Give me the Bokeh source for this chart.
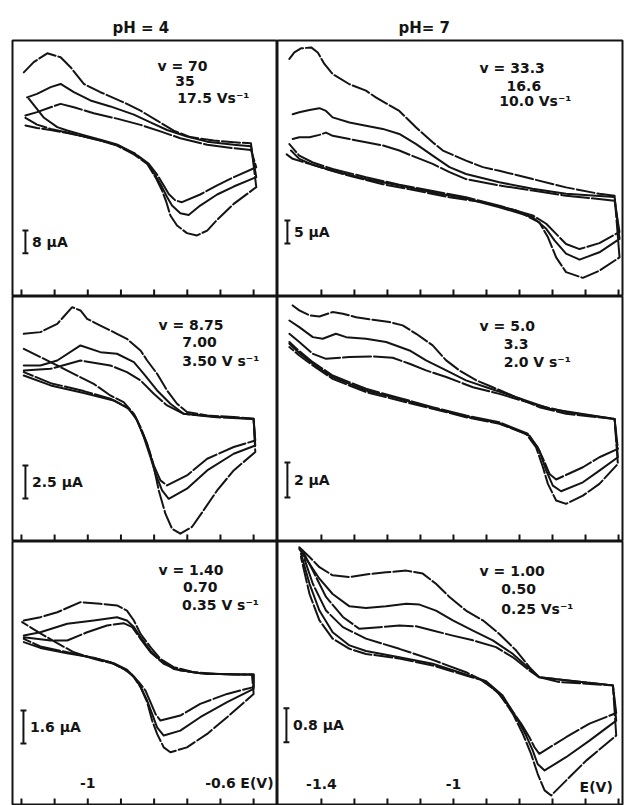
from bokeh.plotting import figure
from bokeh.layouts import gridplot
from bokeh.models import Range1d
from bokeh.core.properties import value
from bokeh.embed import file_html
from bokeh.resources import INLINE

# ---------------- data (E in V, I in microampere) ----------------
PH_LABELS = ["pH = 4", "pH= 7"]

LEFT_TICKS = [-1.2, -1.1, -1.0, -0.9, -0.8, -0.7, -0.6, -0.5]
RIGHT_TICKS = [-1.4, -1.3, -1.2, -1.1, -1.0, -0.9, -0.8, -0.7, -0.6, -0.5]
LEFT_TICK_LABELS = ["-1", "-0.6"]
LEFT_TICK_VALUES = [-1.0, -0.6]
RIGHT_TICK_LABELS = ["-1.4", "-1"]
RIGHT_TICK_VALUES = [-1.4, -1.0]
AXIS_LABEL = "E(V)"

# panel 1 : pH 4, v = 70, 35, 17.5 V/s
P1_RATES = ["v = 70", "35", "17.5 Vs\u207b\u00b9"]
P1_BAR = 8.0
P1_A_E = [-1.193, -1.163, -1.122, -1.082, -1.052, -1.012, -0.962, -0.882, -0.841, -0.791, -0.741, -0.691, -0.620, -0.560, -0.508,
          -0.492, -0.560, -0.610, -0.640, -0.671, -0.701, -0.731, -0.751, -0.763, -0.776, -0.796, -0.821, -0.861, -0.912, -0.962, -1.012, -1.062, -1.112, -1.153, -1.188]
P1_A_I = [78.9, 82.5, 85.6, 84.2, 80.7, 74.8, 71.9, 67.8, 65.4, 61.9, 58.4, 56.1, 54.9, 54.3, 53.9,
          38.5, 32.6, 27.0, 23.2, 21.5, 22.3, 25.0, 28.5, 33.2, 37.3, 42.0, 46.7, 50.0, 53.1, 54.9, 56.3, 57.5, 58.6, 59.3, 60.2]
P1_B_E = [-1.183, -1.153, -1.112, -1.082, -1.042, -0.992, -0.932, -0.861, -0.811, -0.761, -0.701, -0.640, -0.560, -0.508,
          -0.492, -0.560, -0.610, -0.661, -0.696, -0.721, -0.746, -0.761, -0.776, -0.796, -0.821, -0.861, -0.912, -0.962, -1.012, -1.062, -1.092, -1.132, -1.178]
P1_B_I = [70.1, 71.3, 73.7, 74.8, 71.9, 69.0, 66.9, 64.0, 61.3, 58.6, 56.3, 54.5, 53.4, 52.9,
          42.0, 38.7, 35.9, 32.0, 28.7, 29.3, 32.0, 35.0, 38.5, 42.6, 47.0, 50.4, 53.5, 55.2, 56.8, 58.4, 59.6, 62.9, 69.6]
P1_C_E = [-1.188, -1.153, -1.112, -1.082, -1.042, -0.982, -0.912, -0.841, -0.781, -0.721, -0.640, -0.560, -0.508,
          -0.492, -0.560, -0.610, -0.661, -0.716, -0.736, -0.756, -0.771, -0.791, -0.816, -0.856, -0.907, -0.962, -1.012, -1.062, -1.112, -1.153, -1.188]
P1_C_I = [63.7, 64.9, 66.6, 67.8, 66.6, 64.5, 62.6, 60.4, 58.1, 55.7, 53.4, 52.2, 51.6,
          45.5, 42.0, 39.1, 35.9, 33.2, 33.8, 36.1, 39.1, 42.9, 46.7, 50.2, 53.1, 54.9, 56.3, 57.7, 59.0, 60.5, 62.9]

# panel 2 : pH 7, v = 33.3, 16.6, 10.0 V/s
P2_RATES = ["v = 33.3", "16.6", "10.0 Vs\u207b\u00b9"]
P2_BAR = 5.0
P2_A_E = [-1.497, -1.482, -1.462, -1.431, -1.411, -1.391, -1.366, -1.315, -1.265, -1.234, -1.164, -1.113, -1.063, -1.032, -0.962, -0.911, -0.861, -0.760, -0.659, -0.558, -0.512,
          -0.497, -0.558, -0.608, -0.659, -0.689, -0.714, -0.740, -0.810, -0.911, -1.012, -1.113, -1.214, -1.315, -1.386, -1.436, -1.487, -1.507]
P2_A_I = [51.6, 53.0, 53.9, 54.1, 53.0, 50.5, 48.3, 46.1, 44.7, 43.2, 40.3, 36.7, 33.5, 31.7, 29.5, 28.1, 27.3, 25.5, 23.7, 22.3, 21.9,
          8.5, 5.6, 4.05, 5.3, 8.5, 12.9, 16.1, 18.7, 20.5, 21.55, 23.0, 24.4, 26.2, 27.7, 28.8, 29.9, 30.95]
P2_B_E = [-1.487, -1.467, -1.436, -1.406, -1.386, -1.366, -1.315, -1.265, -1.214, -1.164, -1.113, -1.063, -1.012, -0.962, -0.861, -0.760, -0.659, -0.512,
          -0.497, -0.558, -0.618, -0.659, -0.694, -0.719, -0.760, -0.861, -0.962, -1.063, -1.164, -1.265, -1.366, -1.426, -1.467, -1.492]
P2_B_I = [39.6, 40.0, 40.5, 40.9, 40.3, 38.9, 37.8, 37.1, 36.4, 35.3, 33.1, 30.6, 28.1, 26.6, 24.8, 23.4, 22.3, 21.6,
          12.5, 9.6, 8.0, 9.3, 12.2, 14.7, 17.2, 19.4, 21.3, 22.6, 24.1, 25.5, 27.3, 28.6, 29.9, 31.7]
P2_C_E = [-1.487, -1.467, -1.436, -1.406, -1.386, -1.366, -1.315, -1.265, -1.214, -1.164, -1.113, -1.063, -1.012, -0.962, -0.861, -0.760, -0.659, -0.512,
          -0.497, -0.558, -0.618, -0.659, -0.689, -0.719, -0.760, -0.861, -0.962, -1.063, -1.164, -1.265, -1.366, -1.426, -1.467, -1.497]
P2_C_I = [34.2, 34.6, 34.6, 35.1, 35.6, 34.9, 34.2, 33.5, 32.8, 31.7, 30.2, 28.8, 27.0, 25.5, 24.1, 23.0, 21.9, 20.8,
          14.0, 11.6, 10.3, 11.4, 13.6, 15.8, 17.6, 19.7, 21.55, 22.9, 24.3, 25.9, 27.7, 29.1, 30.6, 33.1]

# panel 3 : pH 4, v = 8.75, 7.00, 3.50 V/s
P3_RATES = ["v = 8.75", "7.00", "3.50 V s\u207b\u00b9"]
P3_BAR = 2.5
P3_A_E = [-1.193, -1.143, -1.092, -1.047, -1.022, -1.002, -0.962, -0.912, -0.882, -0.841, -0.821, -0.791, -0.761, -0.731, -0.701, -0.640, -0.560, -0.500,
          -0.495, -0.560, -0.610, -0.651, -0.686, -0.721, -0.746, -0.766, -0.786, -0.801, -0.821, -0.841, -0.861, -0.892, -0.932, -0.982, -1.032, -1.102, -1.193]
P3_A_I = [15.74, 15.87, 16.50, 17.76, 17.51, 16.88, 16.37, 15.74, 15.36, 14.48, 13.72, 12.71, 11.45, 10.44, 9.81, 9.55, 9.43, 9.30,
          6.78, 5.39, 3.87, 2.36, 1.10, 0.59, 0.97, 2.11, 3.87, 5.64, 7.41, 8.67, 9.68, 10.56, 11.07, 11.95, 12.58, 13.47, 14.60]
P3_B_E = [-1.193, -1.143, -1.092, -1.022, -0.962, -0.912, -0.861, -0.831, -0.791, -0.751, -0.711, -0.620, -0.500,
          -0.495, -0.560, -0.640, -0.701, -0.756, -0.776, -0.796, -0.811, -0.831, -0.851, -0.876, -0.922, -1.012, -1.112, -1.193]
P3_B_I = [13.34, 13.34, 13.72, 14.86, 14.35, 14.23, 13.59, 12.71, 11.45, 10.44, 9.68, 9.48, 9.30,
          7.28, 6.65, 5.39, 4.00, 3.24, 3.87, 5.14, 6.40, 7.91, 9.17, 10.06, 10.69, 11.25, 11.83, 12.58]
P3_C_E = [-1.193, -1.112, -1.022, -0.932, -0.882, -0.841, -0.801, -0.761, -0.711, -0.620, -0.500,
          -0.495, -0.560, -0.640, -0.701, -0.761, -0.781, -0.801, -0.816, -0.836, -0.856, -0.882, -0.932, -1.012, -1.112, -1.193]
P3_C_I = [12.96, 13.09, 13.72, 13.34, 12.84, 12.21, 11.20, 10.31, 9.68, 9.43, 9.28,
          7.66, 7.16, 6.27, 5.01, 4.25, 4.63, 5.77, 7.03, 8.29, 9.43, 10.19, 10.82, 11.40, 12.00, 12.84]

# panel 4 : pH 7, v = 5.0, 3.3, 2.0 V/s
P4_RATES = ["v = 5.0", "3.3", "2.0 V s\u207b\u00b9"]
P4_BAR = 2.0
P4_A_E = [-1.487, -1.467, -1.436, -1.406, -1.366, -1.335, -1.295, -1.244, -1.194, -1.154, -1.113, -1.063, -1.022, -0.982, -0.931, -0.881, -0.810, -0.740, -0.659, -0.512,
          -0.502, -0.558, -0.608, -0.659, -0.689, -0.714, -0.729, -0.750, -0.780, -0.861, -0.962, -1.063, -1.164, -1.265, -1.366, -1.426, -1.467, -1.497]
P4_A_I = [13.48, 13.20, 12.91, 12.85, 13.10, 13.00, 12.81, 12.66, 12.53, 12.34, 11.86, 11.20, 10.34, 9.77, 9.20, 8.81, 8.24, 7.67, 7.29, 7.00,
          4.43, 3.29, 2.62, 2.15, 2.34, 3.29, 4.24, 5.39, 6.15, 6.72, 7.10, 7.58, 8.05, 8.53, 9.29, 10.05, 10.62, 11.10]
P4_B_E = [-1.497, -1.467, -1.426, -1.396, -1.356, -1.325, -1.265, -1.204, -1.133, -1.083, -1.022, -0.962, -0.901, -0.810, -0.709, -0.512,
          -0.502, -0.558, -0.608, -0.674, -0.699, -0.719, -0.740, -0.770, -0.861, -0.962, -1.063, -1.164, -1.265, -1.366, -1.426, -1.467, -1.497]
P4_B_I = [12.62, 12.24, 11.67, 11.58, 11.86, 11.67, 11.58, 11.39, 10.91, 10.34, 9.77, 9.20, 8.81, 8.24, 7.58, 7.00,
          4.81, 4.05, 3.38, 2.87, 3.19, 4.05, 5.19, 6.05, 6.76, 7.14, 7.63, 8.15, 8.62, 9.39, 10.15, 10.76, 11.29]
P4_C_E = [-1.497, -1.467, -1.426, -1.386, -1.315, -1.244, -1.184, -1.133, -1.083, -1.022, -0.941, -0.861, -0.760, -0.659, -0.512,
          -0.502, -0.558, -0.608, -0.689, -0.709, -0.724, -0.745, -0.775, -0.861, -0.962, -1.063, -1.164, -1.265, -1.366, -1.426, -1.467, -1.497]
P4_C_I = [11.86, 11.39, 10.72, 10.43, 10.53, 10.57, 10.49, 10.15, 9.77, 9.39, 8.81, 8.43, 7.86, 7.39, 7.00,
          5.29, 4.81, 4.24, 3.54, 3.86, 4.53, 5.39, 6.15, 6.81, 7.19, 7.67, 8.20, 8.72, 9.48, 10.24, 10.87, 11.39]

# panel 5 : pH 4, v = 1.40, 0.70, 0.35 V/s
P5_RATES = ["v = 1.40", "0.70", "0.35 V s\u207b\u00b9"]
P5_BAR = 1.6
P5_A_E = [-1.193, -1.143, -1.092, -1.022, -0.962, -0.912, -0.882, -0.861, -0.841, -0.811, -0.781, -0.741, -0.681, -0.610, -0.550, -0.505,
          -0.500, -0.580, -0.640, -0.701, -0.751, -0.771, -0.791, -0.806, -0.821, -0.841, -0.861, -0.882, -0.922, -0.982, -1.042, -1.092, -1.143, -1.198]
P5_A_I = [9.02, 9.18, 9.42, 9.91, 9.83, 9.75, 9.50, 9.02, 8.37, 7.73, 7.16, 6.76, 6.51, 6.43, 6.40, 6.40,
          5.46, 4.33, 3.52, 2.87, 2.63, 2.87, 3.52, 4.17, 5.06, 5.79, 6.27, 6.59, 6.92, 7.16, 7.48, 7.92, 8.40, 8.94]
P5_B_E = [-1.193, -1.143, -1.062, -0.982, -0.912, -0.882, -0.861, -0.841, -0.811, -0.781, -0.741, -0.661, -0.560, -0.500,
          -0.500, -0.580, -0.661, -0.721, -0.771, -0.791, -0.806, -0.821, -0.841, -0.861, -0.882, -0.922, -0.982, -1.062, -1.143, -1.193]
P5_B_I = [8.29, 8.45, 8.86, 9.02, 9.18, 9.02, 8.70, 8.21, 7.56, 7.08, 6.67, 6.46, 6.40, 6.40,
          5.70, 5.06, 4.33, 3.68, 3.44, 3.84, 4.49, 5.14, 5.82, 6.30, 6.64, 6.95, 7.21, 7.43, 7.69, 7.97]
P5_C_E = [-1.193, -1.112, -1.062, -1.002, -0.942, -0.892, -0.866, -0.841, -0.811, -0.771, -0.721, -0.640, -0.500,
          -0.500, -0.580, -0.661, -0.721, -0.781, -0.796, -0.811, -0.826, -0.846, -0.866, -0.892, -0.932, -0.992, -1.062, -1.143, -1.193]
P5_C_I = [8.21, 8.05, 8.05, 8.45, 8.78, 8.89, 8.70, 8.13, 7.48, 6.92, 6.59, 6.43, 6.40,
          5.79, 5.46, 4.98, 4.41, 4.17, 4.49, 5.06, 5.62, 6.03, 6.38, 6.67, 7.00, 7.24, 7.48, 7.76, 8.13]

# panel 6 : pH 7, v = 1.00, 0.50, 0.25 V/s
P6_RATES = ["v = 1.00", "0.50", "0.25 Vs\u207b\u00b9"]
P6_BAR = 0.8
P6_A_E = [-1.467, -1.436, -1.406, -1.366, -1.315, -1.265, -1.204, -1.143, -1.093, -1.053, -1.012, -0.962, -0.911, -0.861, -0.810, -0.770, -0.740, -0.679, -0.517,
          -0.507, -0.598, -0.659, -0.704, -0.724, -0.745, -0.765, -0.790, -0.820, -0.861, -0.911, -0.962, -1.063, -1.164, -1.265, -1.315, -1.366, -1.406, -1.436, -1.462]
P6_A_I = [6.10, 5.87, 5.63, 5.44, 5.40, 5.46, 5.51, 5.55, 5.48, 5.24, 4.93, 4.61, 4.38, 4.06, 3.67, 3.28, 3.04, 2.93, 2.85,
          1.67, 1.08, 0.61, 0.26, 0.38, 0.77, 1.24, 1.71, 2.18, 2.65, 2.97, 3.08, 3.32, 3.48, 3.59, 3.71, 3.95, 4.38, 5.00, 5.87]
P6_B_E = [-1.467, -1.436, -1.406, -1.366, -1.315, -1.265, -1.204, -1.143, -1.103, -1.053, -1.002, -0.941, -0.881, -0.820, -0.770, -0.740, -0.517,
          -0.507, -0.588, -0.659, -0.724, -0.745, -0.760, -0.780, -0.810, -0.851, -0.901, -0.962, -1.063, -1.164, -1.265, -1.315, -1.366, -1.406, -1.436, -1.462]
P6_B_I = [6.06, 5.71, 5.36, 5.00, 4.71, 4.67, 4.71, 4.77, 4.75, 4.61, 4.38, 4.14, 3.91, 3.59, 3.24, 3.04, 2.85,
          2.02, 1.55, 1.16, 0.85, 1.00, 1.32, 1.67, 2.10, 2.61, 2.95, 3.11, 3.36, 3.51, 3.66, 3.79, 4.10, 4.61, 5.24, 5.95]
P6_C_E = [-1.457, -1.426, -1.386, -1.335, -1.285, -1.224, -1.164, -1.113, -1.063, -1.002, -0.941, -0.871, -0.820, -0.770, -0.740, -0.517,
          -0.507, -0.588, -0.659, -0.740, -0.755, -0.770, -0.795, -0.830, -0.871, -0.921, -0.962, -1.063, -1.164, -1.265, -1.335, -1.386, -1.426, -1.457]
P6_C_I = [6.02, 5.55, 4.93, 4.46, 4.18, 4.22, 4.26, 4.24, 4.14, 4.02, 3.91, 3.75, 3.51, 3.20, 3.04, 2.85,
          2.20, 1.95, 1.63, 1.24, 1.40, 1.63, 1.95, 2.34, 2.73, 3.00, 3.16, 3.45, 3.71, 3.95, 4.22, 4.61, 5.24, 5.95]

# ---------------- styling / layout ----------------
FONT = "DejaVu Sans"
INK = "#141414"
DASHES = ["18 3", "solid", "28 3"]
LEFT_X = (-1.227, -0.428)
RIGHT_X = (-1.533, -0.488)
TICK_PX = 7


def make_panel(xr, yr, fw, fh, curves, ticks, rates, rate_pos, bar, bar_pos,
               title=None, title_offset=0, left=0, right=0, top=0):
    p = figure(frame_width=fw, frame_height=fh,
               x_range=Range1d(*xr), y_range=Range1d(*yr),
               output_backend="svg", toolbar_location=None, tools="",
               title=title,
               min_border_left=left, min_border_right=right,
               min_border_top=top, min_border_bottom=0,
               background_fill_color="white", border_fill_color="white",
               outline_line_color=INK, outline_line_width=2)
    if title is not None:
        p.title.text_font = FONT
        p.title.text_font_size = "15px"
        p.title.text_font_style = "bold"
        p.title.text_color = INK
        p.title.align = "left"
        p.title.offset = title_offset
        p.title.standoff = 8
    p.xgrid.visible = False
    p.ygrid.visible = False
    p.yaxis.visible = False
    p.xaxis.visible = False

    # inward potential ticks along the bottom edge of the panel
    dy = TICK_PX * (yr[1] - yr[0]) / fh
    p.segment(x0=ticks, y0=[yr[0]] * len(ticks), x1=ticks, y1=[yr[0] + dy] * len(ticks),
              line_color=INK, line_width=2)

    for (xs, ys), dash in zip(curves, DASHES):
        p.line(xs, ys, line_color=INK, line_width=2, line_dash=dash,
               line_join="round", line_cap="round")

    # scan rate annotation
    rx, ry = rate_pos
    p.text(x=rx, y=ry, text=rates, text_font=value(FONT), text_font_style="bold",
           text_font_size="14px", text_baseline="middle", text_align="left",
           text_color=INK)

    # current scale bar
    bx, by, dx = bar_pos
    b0, b1 = by, by + bar
    p.segment(x0=[bx, bx - dx, bx - dx], y0=[b0, b0, b1],
              x1=[bx, bx + dx, bx + dx], y1=[b1, b0, b1],
              line_color=INK, line_width=2)
    lab = f"{bar:g} \u03bcA"
    p.text(x=[bx + 2.2 * dx], y=[by + bar / 2], text=[lab], text_font=value(FONT),
           text_font_style="bold", text_font_size="14px", text_baseline="middle",
           text_align="left", text_color=INK)
    return p


p1 = make_panel(LEFT_X, (0, 90.1), 265, 256,
                [(P1_A_E, P1_A_I), (P1_B_E, P1_B_I), (P1_C_E, P1_C_I)],
                LEFT_TICKS, P1_RATES,
                ([-0.790, -0.736, -0.730], [81.3, 76.0, 70.0]),
                P1_BAR, (-1.188, 15.2, 0.009),
                title=PH_LABELS[0], title_offset=100, left=12, top=40)
p2 = make_panel(RIGHT_X, (0, 55.6), 345, 256,
                [(P2_A_E, P2_A_I), (P2_B_E, P2_B_I), (P2_C_E, P2_C_I)],
                RIGHT_TICKS, P2_RATES,
                ([-0.921, -0.839, -0.861], [49.7, 45.8, 42.4]),
                P2_BAR, (-1.503, 11.5, 0.009),
                title=PH_LABELS[1], title_offset=121, right=2, top=40)
p3 = make_panel(LEFT_X, (0, 18.57), 265, 245,
                [(P3_A_E, P3_A_I), (P3_B_E, P3_B_I), (P3_C_E, P3_C_I)],
                LEFT_TICKS, P3_RATES,
                ([-0.787, -0.715, -0.715], [16.4, 15.1, 13.7]),
                P3_BAR, (-1.188, 3.26, 0.009), left=12)
p4 = make_panel(RIGHT_X, (0, 13.99), 345, 245,
                [(P4_A_E, P4_A_I), (P4_B_E, P4_B_I), (P4_C_E, P4_C_I)],
                RIGHT_TICKS, P4_RATES,
                ([-0.921, -0.848, -0.848], [12.33, 11.29, 10.24]),
                P4_BAR, (-1.503, 2.51, 0.009), right=2)
p5 = make_panel(LEFT_X, (0.05, 12.85), 265, 264,
                [(P5_A_E, P5_A_I), (P5_B_E, P5_B_I), (P5_C_E, P5_C_I)],
                LEFT_TICKS, P5_RATES,
                ([-0.787, -0.713, -0.716], [11.45, 10.64, 9.75]),
                P5_BAR, (-1.194, 3.06, 0.009), left=12)
p6 = make_panel(RIGHT_X, (0.024, 6.235), 345, 264,
                [(P6_A_E, P6_A_I), (P6_B_E, P6_B_I), (P6_C_E, P6_C_I)],
                RIGHT_TICKS, P6_RATES,
                ([-0.921, -0.855, -0.855], [5.55, 5.12, 4.65]),
                P6_BAR, (-1.506, 1.51, 0.009), right=2)

# potential axis labels drawn inside the bottom panels
p5.text(x=LEFT_TICK_VALUES, y=[1.12, 1.12], text=LEFT_TICK_LABELS,
        text_font=value(FONT), text_font_style="bold", text_font_size="14px",
        text_baseline="middle", text_align="center", text_color=INK)
p5.text(x=[-0.540], y=[1.12], text=[AXIS_LABEL], text_font=value(FONT),
        text_font_style="bold", text_font_size="14px", text_baseline="middle",
        text_align="left", text_color=INK)
p6.text(x=RIGHT_TICK_VALUES, y=[0.54, 0.54], text=RIGHT_TICK_LABELS,
        text_font=value(FONT), text_font_style="bold", text_font_size="14px",
        text_baseline="middle", text_align="center", text_color=INK)
p6.text(x=[-0.618], y=[0.45], text=[AXIS_LABEL], text_font=value(FONT),
        text_font_style="bold", text_font_size="14px", text_baseline="middle",
        text_align="left", text_color=INK)

grid = gridplot([[p1, p2], [p3, p4], [p5, p6]], toolbar_location=None)

open("out.html", "w").write(file_html(grid, INLINE, title="Cyclic voltammograms"))
